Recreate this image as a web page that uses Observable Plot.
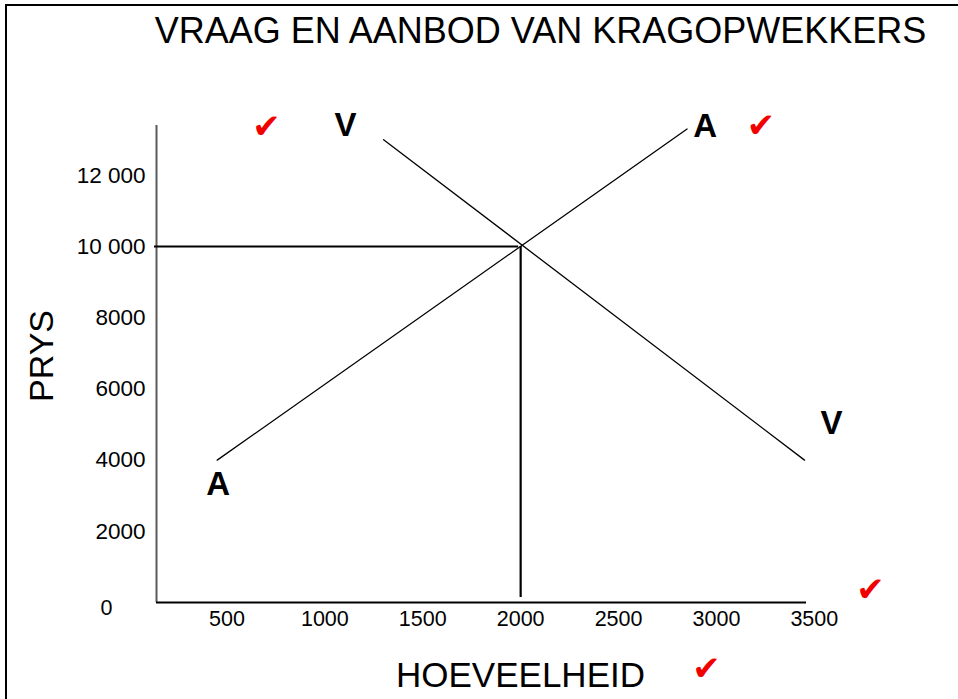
<!DOCTYPE html>
<html><head><meta charset="utf-8">
<script src="https://cdn.jsdelivr.net/npm/d3@7"></script>
<script src="https://cdn.jsdelivr.net/npm/@observablehq/plot@0.6"></script>
<style>
html,body{margin:0;padding:0;background:#fff;overflow:hidden;}
#wrap{position:relative;width:958px;height:699px;overflow:hidden;background:#fff;}
#wrap svg{position:absolute;left:0;top:0;background:transparent;}
.bt{position:absolute;left:5px;top:4px;width:953px;height:2px;background:#000;}
.bl{position:absolute;left:5px;top:4px;width:2px;height:695px;background:#000;}
</style></head><body>
<div id="wrap"><div class="bt"></div><div class="bl"></div></div>
<script>
// ---- data ----
const title = "VRAAG EN AANBOD VAN KRAGOPWEKKERS";
const xLabel = "HOEVEELHEID";
const yLabel = "PRYS";
const xTicks = [500, 1000, 1500, 2000, 2500, 3000, 3500];
const xTickLabels = ["500", "1000", "1500", "2000", "2500", "3000", "3500"];
const yTicks = [2000, 4000, 6000, 8000, 10000, 12000];
const yTickLabels = ["2000", "4000", "6000", "8000", "10 000", "12 000"];
const originLabel = "0";
const demandQ = [1300, 3450];
const demandP = [13000, 4000];
const supplyQ = [450, 2850];
const supplyP = [4000, 13300];
const equilibriumQ = 2000;
const equilibriumP = 10000;
const demandName = "V";
const supplyName = "A";
const checkMark = "\u2714";
const xDomain = [140, 3460];
const yDomain = [0, 13400];

// ---- tables ----
const demand = demandQ.map((q, i) => ({q, p: demandP[i]}));
const supply = supplyQ.map((q, i) => ({q, p: supplyP[i]}));
const FONT = "Liberation Sans, Arial, Helvetica, sans-serif";
const RED = "#f20000";
const CHECK_FONT = "DejaVu Sans";

const chart = Plot.plot({
  width: 958,
  height: 699,
  marginLeft: 156,
  marginRight: 152,
  marginTop: 125,
  marginBottom: 97,
  style: {fontFamily: FONT, background: "transparent", overflow: "visible"},
  x: {domain: xDomain, axis: null},
  y: {domain: yDomain, axis: null},
  marks: [
    // axes lines
    Plot.ruleX([{x: xDomain[0], y1: yDomain[0], y2: yDomain[1]}], {x: "x", y1: "y1", y2: "y2", stroke: "#5a5a5a", strokeWidth: 2}),
    Plot.ruleY([{y: yDomain[0], x1: xDomain[0], x2: xDomain[1]}], {y: "y", x1: "x1", x2: "x2", stroke: "#000", strokeWidth: 1.8}),
    // equilibrium guides
    Plot.ruleY([{y: equilibriumP, x1: xDomain[0], x2: equilibriumQ}], {y: "y", x1: "x1", x2: "x2", stroke: "#000", strokeWidth: 2, dx: -2}),
    Plot.ruleX([{x: equilibriumQ, y1: equilibriumP, y2: yDomain[0]}], {x: "x", y1: "y1", y2: "y2", stroke: "#000", strokeWidth: 2.2, insetBottom: 5}),
    // curves
    Plot.line(supply, {x: "q", y: "p", stroke: "#000", strokeWidth: 1.3}),
    Plot.line(demand, {x: "q", y: "p", stroke: "#000", strokeWidth: 1.3}),
    // curve labels
    Plot.text([demand[0]], {x: "q", y: "p", text: () => demandName, dx: -38, dy: -14, fontSize: 33, fontWeight: "bold", fontFamily: FONT, fill: "#000"}),
    Plot.text([demand[1]], {x: "q", y: "p", text: () => demandName, dx: 27, dy: -37, fontSize: 33, fontWeight: "bold", fontFamily: FONT, fill: "#000"}),
    Plot.text([supply[1]], {x: "q", y: "p", text: () => supplyName, dx: 18, dy: -3, fontSize: 33, fontWeight: "bold", fontFamily: FONT, fill: "#000"}),
    Plot.text([supply[0]], {x: "q", y: "p", text: () => supplyName, dx: 1, dy: 24, fontSize: 33, fontWeight: "bold", fontFamily: FONT, fill: "#000"}),
    // tick labels
    Plot.text(xTicks, {x: d => d, y: () => yDomain[0], text: (d, i) => xTickLabels[i], dy: 17, fontSize: 21.5, fontFamily: FONT, fill: "#000"}),
    Plot.text(yTicks, {x: () => xDomain[0], y: d => d, text: (d, i) => yTickLabels[i], textAnchor: "end", dx: -11, fontSize: 22.5, fontFamily: FONT, fill: "#000"}),
    Plot.text([originLabel], {x: () => xDomain[0], y: () => yDomain[0], text: d => d, dx: -50, dy: 6, fontSize: 21.5, fontFamily: FONT, fill: "#000"}),
    // titles
    Plot.text([title], {frameAnchor: "top", text: d => d, textAnchor: "middle", dx: 59, dy: -94, lineAnchor: "middle", fontSize: 36, fontFamily: FONT, fill: "#000"}),
    Plot.text([xLabel], {frameAnchor: "bottom", text: d => d, textAnchor: "middle", dx: 39, dy: 73, lineAnchor: "middle", fontSize: 35, fontFamily: FONT, fill: "#000"}),
    Plot.text([yLabel], {frameAnchor: "left", text: d => d, textAnchor: "middle", dx: -114, dy: -8, rotate: -90, lineAnchor: "middle", fontSize: 34, fontFamily: FONT, fill: "#000"}),
    // check marks
    Plot.text([demand[0]], {x: "q", y: "p", text: () => checkMark, textAnchor: "middle", lineAnchor: "middle", dx: -117, dy: -13, fontSize: 34, fontFamily: CHECK_FONT, fill: RED}),
    Plot.text([supply[1]], {x: "q", y: "p", text: () => checkMark, textAnchor: "middle", lineAnchor: "middle", dx: 74, dy: -3, fontSize: 34, fontFamily: CHECK_FONT, fill: RED}),
    Plot.text([{x: xDomain[1], y: yDomain[0]}], {x: "x", y: "y", text: () => checkMark, textAnchor: "middle", lineAnchor: "middle", dx: 64, dy: -12, fontSize: 34, fontFamily: CHECK_FONT, fill: RED}),
    Plot.text([xLabel], {frameAnchor: "bottom", text: () => checkMark, textAnchor: "middle", lineAnchor: "middle", dx: 225, dy: 67, fontSize: 34, fontFamily: CHECK_FONT, fill: RED})
  ]
});
document.getElementById("wrap").appendChild(chart);
</script>
</body></html>
